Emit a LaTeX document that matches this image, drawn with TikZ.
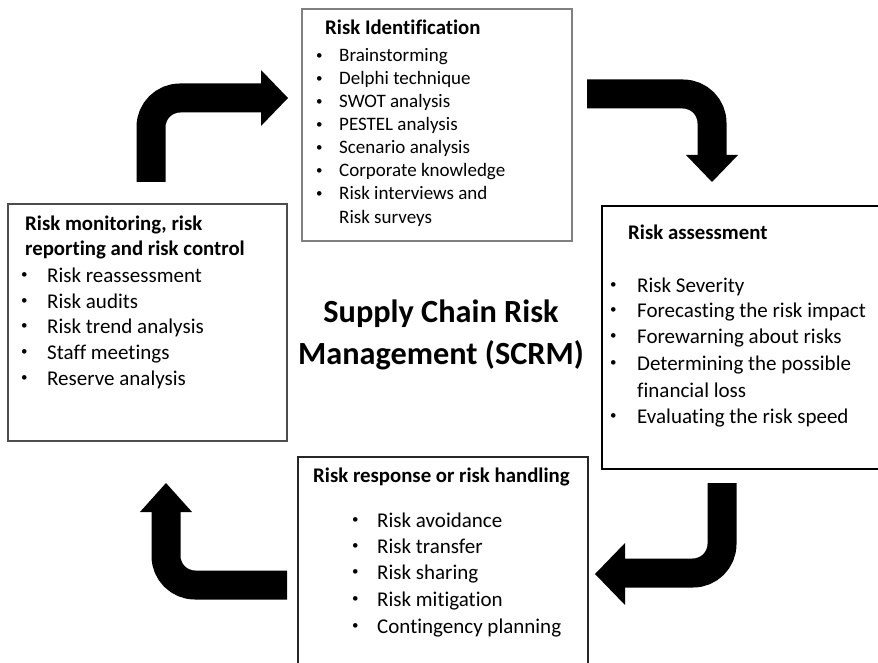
\documentclass[tikz,border=0pt]{standalone}
\usepackage{fontspec}
\setmainfont{Carlito}[Ligatures={NoCommon}]
\newcommand{\smallbul}{\raisebox{0.3ex}{\fontsize{13}{13}\selectfont •}}
\begin{document}
\begin{tikzpicture}[x=1pt,y=-1pt,
  box/.style={draw=#1, line width=1.6pt, inner sep=0pt, outer sep=0pt, anchor=north west},
  smalltxt/.style={anchor=base west, inner sep=0pt, font=\fontsize{19}{23}\selectfont},
  bigtxt/.style={anchor=base west, inner sep=0pt, font=\fontsize{21}{26}\selectfont},
  titletxt/.style={anchor=base west, inner sep=0pt, font=\fontsize{20.8}{25}\selectfont\bfseries},
  centertxt/.style={anchor=base, inner sep=0pt, font=\fontsize{32.3}{42}\selectfont\bfseries},
  shaft/.style={line width=29pt, rounded corners=29pt, line cap=butt},
  head/.style={fill=black, draw=none}
]
\useasboundingbox (0,0) rectangle (878,663);
\fill[white] (0,0) rectangle (878,663);

% boxes
\node[box=gray, minimum width=270pt, minimum height=232pt] (ident) at (302,9) {};
\node[box=black!70, minimum width=279pt, minimum height=237pt] (monit) at (8,204) {};
\node[box=black, minimum width=290pt, minimum height=263pt] (assess) at (602,206) {};
\node[box=black!85, minimum width=290pt, minimum height=220pt] (resp) at (298,457) {};

% top box
\node[titletxt] (identtitle) at (325,35) {Risk Identification};
\foreach \y/\t in {62/Brainstorming, 85/Delphi technique, 108/SWOT analysis, 131/PESTEL analysis, 154/Scenario analysis, 177/Corporate knowledge, 200/Risk interviews and}{
  \node[smalltxt] (ib\y) at (316,\y) {\smallbul};
  \node[smalltxt] (it\y) at (339,\y) {\t};
}
\node[smalltxt] (it223) at (339,223) {Risk surveys};

% left box
\node[titletxt] (monittitleA) at (25,230) {Risk monitoring, risk};
\node[titletxt] (monittitleB) at (25,255) {reporting and risk control};
\foreach \y/\t in {282/Risk reassessment, 308/Risk audits, 333/Risk trend analysis, 359/Staff meetings, 385/Reserve analysis}{
  \node[bigtxt] (mb\y) at (21,\y) {\smallbul};
  \node[bigtxt] (mt\y) at (47,\y) {\t};
}

% right box
\node[titletxt] (assesstitle) at (628,240) {Risk assessment};
\foreach \y/\t in {292/Risk Severity, 317/Forecasting the risk impact, 343/Forewarning about risks, 370/Determining the possible, 423/Evaluating the risk speed}{
  \node[bigtxt] (ab\y) at (610,\y) {\smallbul};
  \node[bigtxt] (at\y) at (637,\y) {\t};
}
\node[bigtxt] (at397) at (637,397) {financial loss};

% bottom box
\node[titletxt] (resptitle) at (313,482) {Risk response or risk handling};
\foreach \y/\t in {527/Risk avoidance, 553/Risk transfer, 579/Risk sharing, 606/Risk mitigation, 633/Contingency planning}{
  \node[bigtxt] (rb\y) at (352,\y) {\smallbul};
  \node[bigtxt] (rt\y) at (377,\y) {\t};
}

% center
\node[centertxt] (scrmA) at (441,322) {Supply Chain Risk};
\node[centertxt] (scrmB) at (441,364) {Management (SCRM)};

% arrows
\coordinate (a1s) at (151,182);
\coordinate (a1c) at (151,98);
\coordinate (a1e) at (262,98);
\draw[shaft] (a1s) -- (a1c) -- (a1e);
\fill[head] (261,70) -- (288,98) -- (261,126) -- cycle;

\coordinate (a2s) at (587,94);
\coordinate (a2c) at (712,94);
\coordinate (a2e) at (712,156);
\draw[shaft] (a2s) -- (a2c) -- (a2e);
\fill[head] (686,155) -- (738,155) -- (712,182) -- cycle;

\coordinate (a3s) at (722,483);
\coordinate (a3c) at (722,573);
\coordinate (a3e) at (624,573);
\draw[shaft] (a3s) -- (a3c) -- (a3e);
\fill[head] (625,543) -- (595,574) -- (625,605) -- cycle;

\coordinate (a4s) at (287,585);
\coordinate (a4c) at (166,585);
\coordinate (a4e) at (166,511);
\draw[shaft] (a4s) -- (a4c) -- (a4e);
\fill[head] (140,512) -- (166,483) -- (192,512) -- cycle;
\end{tikzpicture}
\end{document}
